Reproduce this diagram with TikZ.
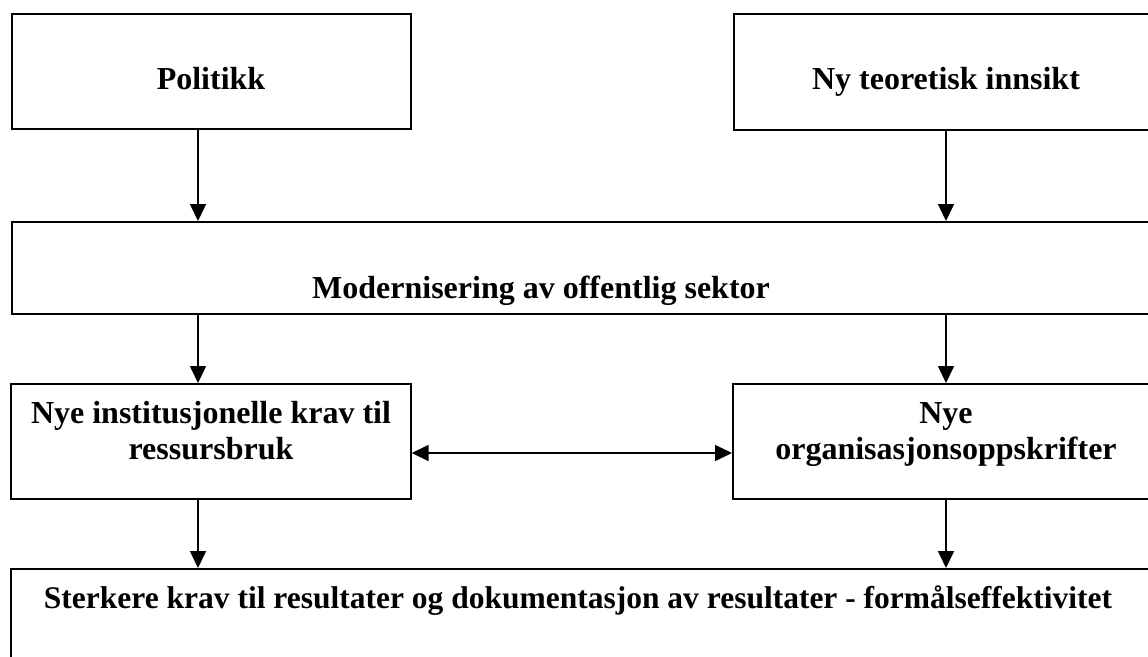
\documentclass[tikz,border=0pt]{standalone}
\usepackage{fontspec}
\setmainfont{Liberation Serif}
\usetikzlibrary{arrows.meta,calc}
\begin{document}
\begin{tikzpicture}[x=1pt,y=-1pt,
  frame/.style={draw=black,line width=1.7pt,rectangle,inner sep=0pt,anchor=north west},
  label/.style={font=\fontsize{32}{36}\selectfont\bfseries,inner sep=0pt,anchor=base,align=center},
  arr/.style={line width=1.6pt,-{Triangle[width=16pt,length=17pt]}},
  darr/.style={line width=1.6pt,{Triangle[width=16pt,length=17pt]}-{Triangle[width=16pt,length=17pt]}}]
  \clip (0,0) rectangle (1148,656);
  \fill[white] (0,0) rectangle (1148,656);
  % columns of the vertical arrows and the level of the double arrow
  \coordinate (L) at (198,0);
  \coordinate (R) at (946,0);
  \coordinate (M) at (0,453);
  % boxes
  \node[frame,minimum width=399pt,minimum height=115pt] (pol) at (11,13) {};
  \node[frame,minimum width=440pt,minimum height=116pt] (nyt) at (733,13) {};
  \node[frame,minimum width=1160pt,minimum height=92pt] (mod) at (11,221) {};
  \node[frame,minimum width=400pt,minimum height=115pt] (ins) at (10,383) {};
  \node[frame,minimum width=440pt,minimum height=115pt] (org) at (732,383) {};
  \node[frame,minimum width=1170pt,minimum height=140pt] (res) at (10,568) {};
  % texts
  \node[label] (tpol) at (211,89) {Politikk};
  \node[label] (tnyt) at (946,89) {Ny teoretisk innsikt};
  \node[label] (tmod) at (541,298) {Modernisering av offentlig sektor};
  \node[label] (tins1) at (211,423) {Nye institusjonelle krav til};
  \node[label] (tins2) at (211,459) {ressursbruk};
  \node[label] (torg1) at (946,423) {Nye};
  \node[label] (torg2) at (946,459) {organisasjonsoppskrifter};
  \node[label,font=\fontsize{31.5}{36}\selectfont\bfseries] (tres) at (578,608) {Sterkere krav til resultater og dokumentasjon av resultater - formålseffektivitet};
  % connectors
  \draw[arr] (pol.south -| L) -- (mod.north -| L);
  \draw[arr] (nyt.south -| R) -- (mod.north -| R);
  \draw[arr] (mod.south -| L) -- (ins.north -| L);
  \draw[arr] (mod.south -| R) -- (org.north -| R);
  \draw[arr] (ins.south -| L) -- (res.north -| L);
  \draw[arr] (org.south -| R) -- (res.north -| R);
  \draw[darr] (ins.east |- M) -- (org.west |- M);
\end{tikzpicture}
\end{document}
